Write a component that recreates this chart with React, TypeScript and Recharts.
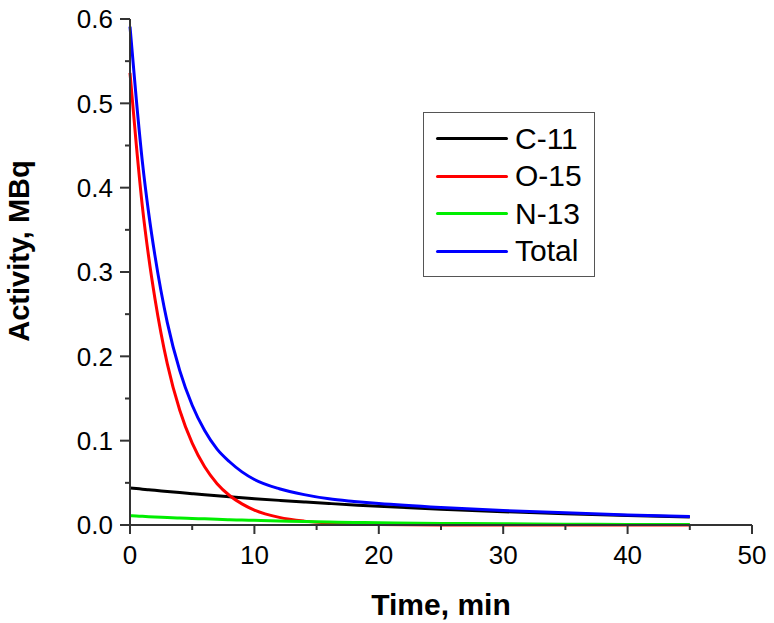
import { LineChart, Line, XAxis, YAxis, Legend, Label } from 'recharts'

const times = [0, 0.5, 1, 1.5, 2, 3, 4, 5, 6, 7, 8, 9, 10, 12, 14, 16, 18, 20, 25, 30, 35, 40, 45]
const c11 = [0.044, 0.0433, 0.0425, 0.0418, 0.0411, 0.0398, 0.0384, 0.0371, 0.0358, 0.0346, 0.0335, 0.0323, 0.0312, 0.0292, 0.0273, 0.0255, 0.0238, 0.0222, 0.0188, 0.0158, 0.0134, 0.0113, 0.0095]
const o15 = [0.536, 0.452, 0.377, 0.318, 0.269, 0.191, 0.136, 0.097, 0.069, 0.049, 0.035, 0.025, 0.0177, 0.009, 0.0046, 0.0023, 0.0012, 0.0006, 0.0001, 0, 0, 0, 0]
const n13 = [0.011, 0.0106, 0.0103, 0.0099, 0.0096, 0.0089, 0.0083, 0.0078, 0.0073, 0.0068, 0.0063, 0.0059, 0.0055, 0.0048, 0.0042, 0.0036, 0.0031, 0.0027, 0.0019, 0.0014, 0.001, 0.0007, 0.0005]
const total = [0.591, 0.506, 0.43, 0.37, 0.32, 0.24, 0.183, 0.142, 0.112, 0.09, 0.075, 0.063, 0.054, 0.043, 0.036, 0.031, 0.028, 0.0255, 0.0208, 0.0172, 0.0144, 0.012, 0.01]

const xTicks = [0, 5, 10, 15, 20, 25, 30, 35, 40, 45, 50]
const yTicks = [0, 0.05, 0.1, 0.15, 0.2, 0.25, 0.3, 0.35, 0.4, 0.45, 0.5, 0.55, 0.6]

const series = [
  { key: 'c11', name: 'C-11', color: '#000000' },
  { key: 'o15', name: 'O-15', color: '#ff0000' },
  { key: 'n13', name: 'N-13', color: '#00ee00' },
  { key: 'total', name: 'Total', color: '#0000ff' },
]

const data = times.map((t, i) => ({ t, c11: c11[i], o15: o15[i], n13: n13[i], total: total[i] }))

const FONT = 'Liberation Sans, Arial, sans-serif'
const AXIS = '#333'

function XTick({ x, y, payload }: any) {
  const major = payload.value % 10 === 0
  return (
    <g>
      <line x1={x} x2={x} y1={y} y2={y + (major ? 9 : 5)} stroke={AXIS} strokeWidth={2} />
      {major && (
        <text x={x} y={y + 39} textAnchor="middle" fontSize={26} fontFamily={FONT} fill="#000">
          {payload.value}
        </text>
      )}
    </g>
  )
}

function YTick({ x, y, payload }: any) {
  const major = Math.round(payload.value * 100) % 10 === 0
  return (
    <g>
      <line x1={x - (major ? 10 : 5)} x2={x} y1={y} y2={y} stroke={AXIS} strokeWidth={2} />
      {major && (
        <text x={x - 17} y={y} dy="0.36em" textAnchor="end" fontSize={26} fontFamily={FONT} fill="#000">
          {payload.value.toFixed(1)}
        </text>
      )}
    </g>
  )
}

function LegendBox() {
  return (
    <div style={{ border: '1px solid #555', background: '#fff', width: 172, height: 165, paddingTop: 7, boxSizing: 'border-box' }}>
      {series.map((s) => (
        <div key={s.key} style={{ display: 'flex', alignItems: 'center', height: 37.5 }}>
          <div style={{ marginLeft: 12, width: 72, height: 3, background: s.color, borderRadius: 2 }} />
          <span style={{ marginLeft: 7, fontSize: 30, fontFamily: FONT, color: '#000' }}>{s.name}</span>
        </div>
      ))}
    </div>
  )
}

function YTitle({ viewBox }: any) {
  const cx = 29
  const cy = viewBox.y + viewBox.height / 2 - 21
  return (
    <text x={cx} y={cy} transform={`rotate(-90, ${cx}, ${cy})`} textAnchor="middle" fontSize={29} fontWeight="bold" fontFamily={FONT} fill="#000">
      Activity, MBq
    </text>
  )
}

export default function App() {
  return (
    <div style={{ position: 'absolute', left: 0, top: 0, background: '#fff' }}>
      <LineChart width={774} height={623} data={data} margin={{ top: 19, right: 22, left: 0, bottom: 0 }}>
        <XAxis
          dataKey="t"
          type="number"
          domain={[0, 50]}
          ticks={xTicks}
          interval={0}
          height={98}
          tickSize={0}
          tickMargin={0}
          tickLine={false}
          axisLine={{ stroke: AXIS, strokeWidth: 2 }}
          tick={<XTick />}
        >
          <Label value="Time, min" position="insideBottom" offset={8} style={{ fontSize: 30, fontWeight: 'bold', fontFamily: FONT, fill: '#000' }} />
        </XAxis>
        <YAxis
          type="number"
          domain={[0, 0.6]}
          ticks={yTicks}
          interval={0}
          width={130}
          tickSize={0}
          tickMargin={0}
          tickLine={false}
          axisLine={{ stroke: AXIS, strokeWidth: 2 }}
          tick={<YTick />}
        >
          <Label content={<YTitle />} />
        </YAxis>
        <Legend
          layout="vertical"
          align="center"
          verticalAlign="middle"
          content={<LegendBox />}
          wrapperStyle={{ left: 423, top: 112, width: 174, height: 166 }}
        />
        {series.map((s) => (
          <Line
            key={s.key}
            dataKey={s.key}
            name={s.name}
            type="monotone"
            stroke={s.color}
            strokeWidth={3}
            dot={false}
            isAnimationActive={false}
          />
        ))}
      </LineChart>
    </div>
  )
}
